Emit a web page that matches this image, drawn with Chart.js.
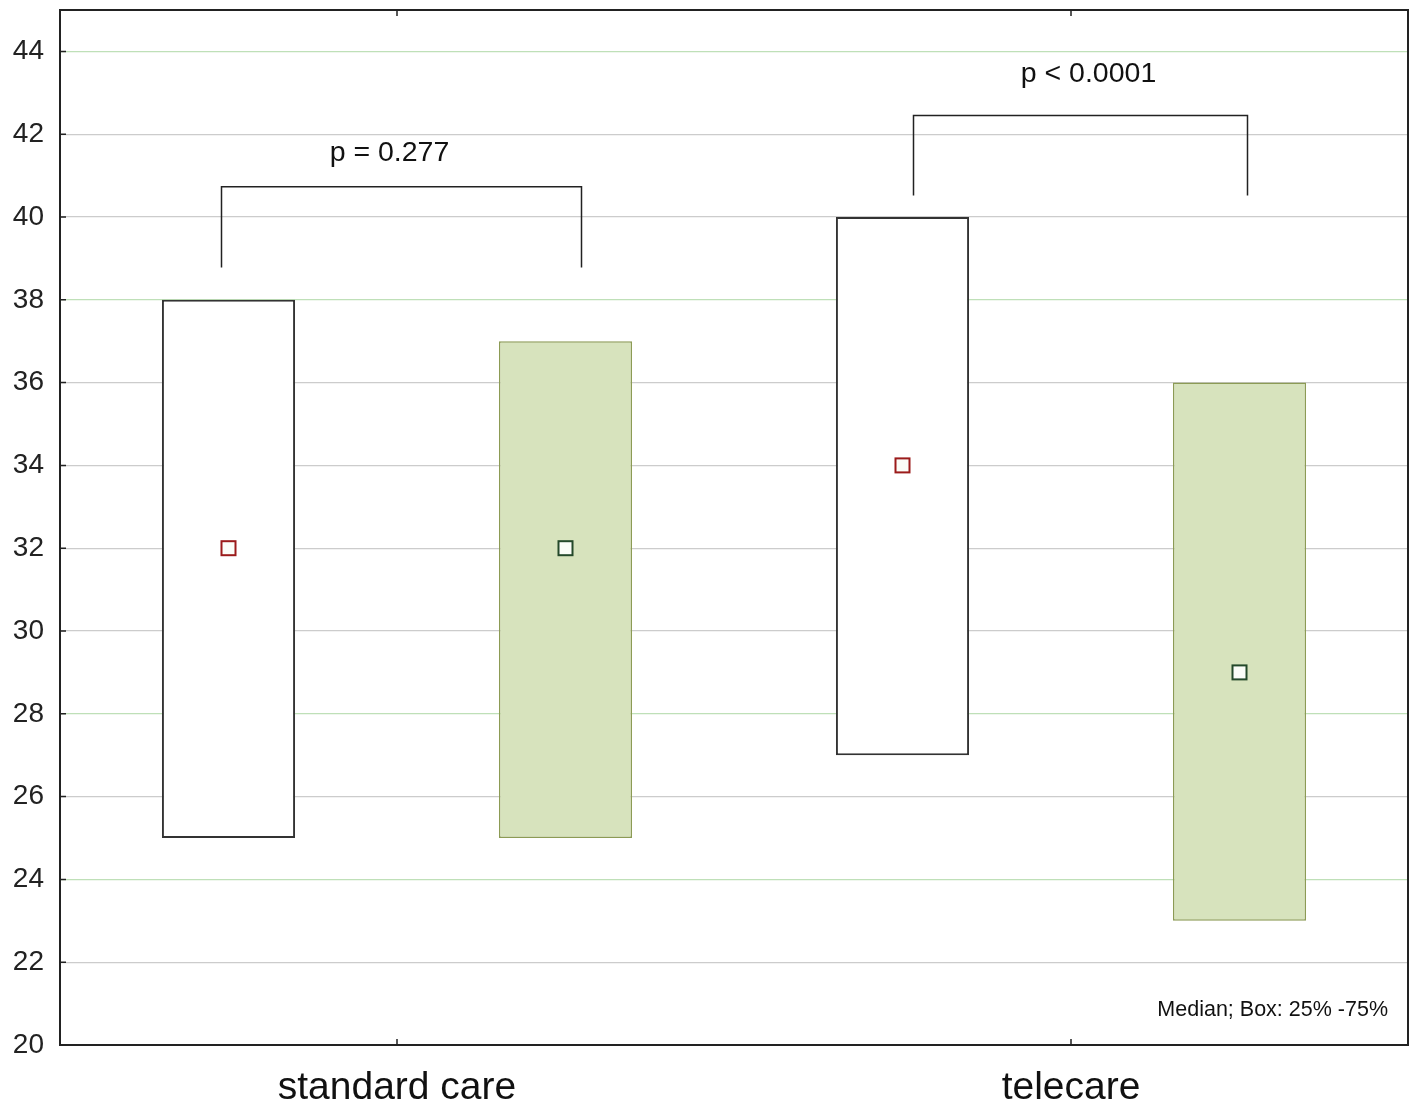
<!DOCTYPE html>
<html>
<head>
<meta charset="utf-8">
<script src="https://cdn.jsdelivr.net/npm/chart.js@4.4.1/dist/chart.umd.min.js"></script>
<style>
  html,body{margin:0;padding:0;background:#fff;}
  #wrap{width:1417px;height:1110px;}
</style>
</head>
<body>
<div id="wrap"><canvas id="chart"></canvas></div>
<script>
const groups = ["standard care", "telecare"];

// box 25%-75% for the two boxes in each group
const whiteBoxes = [[25, 38], [27, 40]];
const greenBoxes = [[25, 37], [23, 36]];
const whiteMedians = [32, 34];
const greenMedians = [32, 29];

// p-value brackets per group: [top of bracket, end of legs]
const bracketTop = [40.73, 42.45];
const bracketLegs = [38.78, 40.52];
const pLabels = ["p = 0.277", "p < 0.0001"];
const pLabelY = [41.55, 43.45];

const yTicks = [20, 22, 24, 26, 28, 30, 32, 34, 36, 38, 40, 42, 44];
const greenGrid = [44, 38, 28, 24];

const fontFamily = "Arial, 'Liberation Sans', sans-serif";

const boxExtras = {
  id: "boxExtras",
  afterDatasetsDraw(chart){
    const ctx = chart.ctx;
    const y = chart.scales.y;
    const x = chart.scales.x;
    const area = chart.chartArea;
    const white = chart.getDatasetMeta(0).data;
    const green = chart.getDatasetMeta(1).data;

    ctx.save();

    // median squares
    const drawMedian = (px, value, color) => {
      const py = y.getPixelForValue(value);
      ctx.fillStyle = "#fbfdf8";
      ctx.fillRect(px - 7, py - 7, 14, 14);
      ctx.strokeStyle = color;
      ctx.lineWidth = 2;
      ctx.strokeRect(px - 7, py - 7, 14, 14);
    };
    white.forEach((bar, i) => drawMedian(bar.x, whiteMedians[i], "#9b1b1b"));
    green.forEach((bar, i) => drawMedian(bar.x, greenMedians[i], "#24492a"));

    // brackets with p-values
    const leftShift = [-7, 11];
    const rightShift = [16, 8];
    const textShift = [-12, 8];
    ctx.strokeStyle = "#222";
    ctx.lineWidth = 1.5;
    ctx.fillStyle = "#111";
    ctx.font = "28.5px " + fontFamily;
    ctx.textAlign = "center";
    ctx.textBaseline = "middle";
    groups.forEach((g, i) => {
      const x1 = white[i].x + leftShift[i];
      const x2 = green[i].x + rightShift[i];
      const yt = y.getPixelForValue(bracketTop[i]);
      const yl = y.getPixelForValue(bracketLegs[i]);
      ctx.beginPath();
      ctx.moveTo(x1, yl);
      ctx.lineTo(x1, yt);
      ctx.lineTo(x2, yt);
      ctx.lineTo(x2, yl);
      ctx.stroke();
      ctx.fillText(pLabels[i], (x1 + x2) / 2 + textShift[i], y.getPixelForValue(pLabelY[i]));
    });

    // frame
    ctx.strokeStyle = "#222";
    ctx.lineWidth = 2;
    ctx.strokeRect(area.left, area.top, area.right - area.left, area.bottom - area.top);

    // inside ticks
    ctx.lineWidth = 1.5;
    ctx.beginPath();
    yTicks.forEach(v => {
      const py = y.getPixelForValue(v);
      ctx.moveTo(area.left, py);
      ctx.lineTo(area.left + 6, py);
    });
    groups.forEach((g, i) => {
      const px = x.getPixelForValue(i);
      ctx.moveTo(px, area.top);
      ctx.lineTo(px, area.top + 6);
      ctx.moveTo(px, area.bottom);
      ctx.lineTo(px, area.bottom - 6);
    });
    ctx.stroke();

    // legend note
    ctx.font = "21.5px " + fontFamily;
    ctx.textAlign = "right";
    ctx.fillStyle = "#111";
    ctx.fillText("Median; Box: 25% -75%", area.right - 20, y.getPixelForValue(20.85));

    ctx.restore();
  }
};

new Chart(document.getElementById("chart"), {
  type: "bar",
  data: {
    labels: groups,
    datasets: [
      {
        label: "white",
        data: whiteBoxes,
        backgroundColor: "#ffffff",
        borderColor: "#333333",
        borderWidth: 2,
        borderSkipped: false
      },
      {
        label: "green",
        data: greenBoxes,
        backgroundColor: "#d7e3bd",
        borderColor: "#8c9b55",
        borderWidth: 1.5,
        borderSkipped: false
      }
    ]
  },
  options: {
    responsive: true,
    maintainAspectRatio: false,
    animation: false,
    categoryPercentage: 1.0,
    barPercentage: 0.395,
    layout: { padding: { top: 10, right: 9, left: 0, bottom: 0 } },
    plugins: {
      legend: { display: false },
      tooltip: { enabled: false }
    },
    scales: {
      x: {
        grid: { display: false, drawTicks: false },
        border: { display: false },
        afterFit: scale => { scale.height = 65; },
        ticks: {
          padding: 20,
          color: "#111",
          font: { family: fontFamily, size: 39 }
        }
      },
      y: {
        min: 20,
        max: 45,
        afterFit: scale => {
          scale.width = 60;
          scale.paddingTop = 0;
          scale.paddingBottom = 0;
        },
        afterBuildTicks: scale => { scale.ticks = yTicks.map(v => ({ value: v })); },
        border: { display: false },
        grid: {
          drawTicks: false,
          lineWidth: 1.2,
          color: c => greenGrid.includes(c.tick.value) ? "#bfe0b8" : "#cccccc"
        },
        ticks: {
          padding: 16,
          color: "#222",
          font: { family: fontFamily, size: 28 }
        }
      }
    }
  },
  plugins: [boxExtras]
});
</script>
</body>
</html>
